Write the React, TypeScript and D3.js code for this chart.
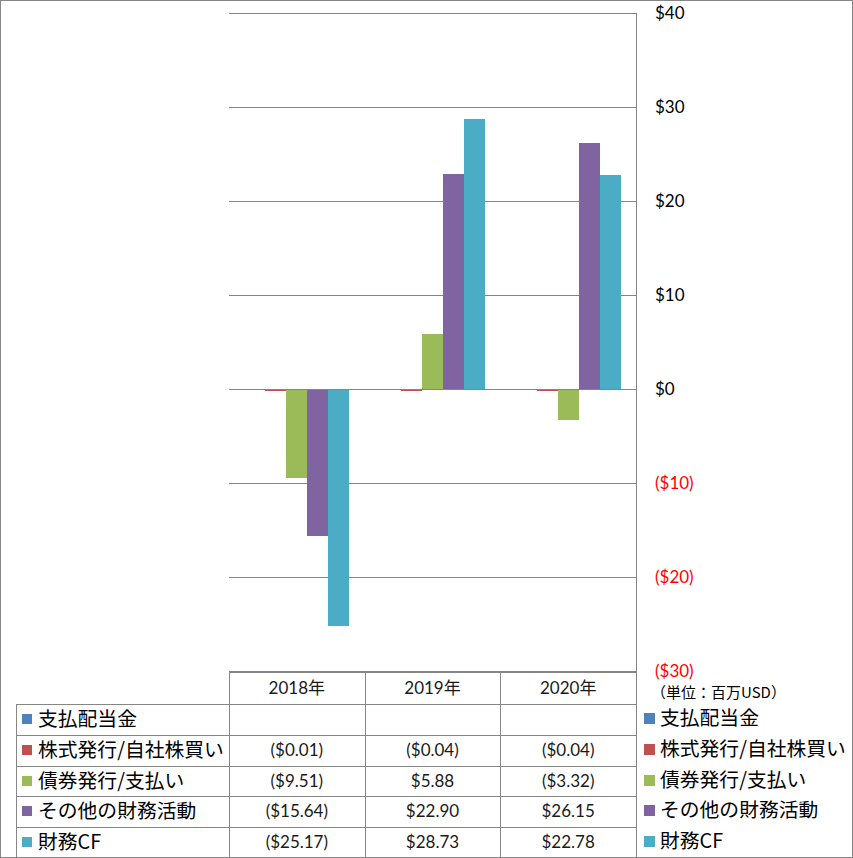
import React from 'react';
import * as d3 from 'd3';

const categories = ['2018年', '2019年', '2020年'];
const seriesNames = ['支払配当金', '株式発行/自社株買い', '債券発行/支払い', 'その他の財務活動', '財務CF'];
const dividends: (number | null)[] = [null, null, null];
const stockIssuance: (number | null)[] = [-0.01, -0.04, -0.04];
const debtIssuance: (number | null)[] = [-9.51, 5.88, -3.32];
const otherFinancing: (number | null)[] = [-15.64, 22.9, 26.15];
const financingCF: (number | null)[] = [-25.17, 28.73, 22.78];
const seriesValues = [dividends, stockIssuance, debtIssuance, otherFinancing, financingCF];
const seriesColors = ['#4F81BD', '#C0504D', '#9BBB59', '#8064A2', '#4BACC6'];
const yTicks = [40, 30, 20, 10, 0, -10, -20, -30];
const unitLabel = '（単位：百万USD）';

const W = 853;
const H = 858;
const plotLeft = 229;
const plotRight = 636;
const gridColor = '#868686';
const numFont = "Lato, 'Noto Sans CJK JP', sans-serif";
const jpFont = "'Noto Sans CJK JP', sans-serif";

const fmtVal = (v: number) => (v < 0 ? `($${Math.abs(v).toFixed(2)})` : `$${v.toFixed(2)}`);
const fmtTick = (v: number) => (v < 0 ? `($${Math.abs(v)})` : `$${v}`);

export default function App() {
  const y = d3.scaleLinear().domain([-30, 40]).range([671, 13]);
  const x = d3.scaleBand<string>().domain(categories).range([plotLeft, plotRight]).padding(0);
  const bw = x.bandwidth();
  const groupW = bw * 0.774;
  const xs = d3
    .scaleBand<string>()
    .domain(seriesNames)
    .range([(bw - groupW) / 2, (bw + groupW) / 2])
    .padding(0);

  const headerTop = 672;
  const rowTops = [704, 735, 766, 796, 827];
  const rowBottom = 857;
  const rowH = 30.6;

  return (
    <svg
      width={W}
      height={H}
      style={{ position: 'absolute', left: 0, top: 0, background: '#fff' }}
      shapeRendering="crispEdges"
    >
      <rect x={0} y={0} width={W} height={H} fill="#fff" />
      {/* gridlines */}
      {yTicks.map((t) => (
        <line
          key={t}
          x1={plotLeft}
          x2={plotRight}
          y1={Math.round(y(t)) + 0.5}
          y2={Math.round(y(t)) + 0.5}
          stroke={gridColor}
          strokeWidth={1}
        />
      ))}
      {/* bars */}
      <g shapeRendering="crispEdges">
        {categories.map((c, ci) =>
          seriesValues.map((vals, si) => {
            const v = vals[ci];
            if (v === null || v === undefined) return null;
            const x0 = (x(c) as number) + (xs(seriesNames[si]) as number);
            const y0 = y(0);
            const y1 = y(v);
            let top = Math.min(y0, y1);
            let h = Math.abs(y1 - y0);
            if (h < 1.5) {
              h = 1.5;
              top = v < 0 ? y0 : y0 - h;
            }
            return (
              <rect
                key={`${ci}-${si}`}
                x={x0}
                y={top}
                width={xs.bandwidth()}
                height={h}
                fill={seriesColors[si]}
              />
            );
          })
        )}
      </g>
      {/* zero line on top */}
      <line x1={plotLeft} x2={plotRight} y1={Math.round(y(0)) + 0.5} y2={Math.round(y(0)) + 0.5} stroke={gridColor} />
      {/* right axis line extends through table */}
      <line x1={plotRight + 0.5} x2={plotRight + 0.5} y1={y(40)} y2={rowBottom} stroke={gridColor} />
      {/* tick labels */}
      {yTicks.map((t) => (
        <text
          key={`l${t}`}
          x={655}
          y={y(t)}
          dy="0.36em"
          fontFamily={numFont}
          fontSize={17}
          fill={t < 0 ? '#FF0000' : '#000'}
        >
          {fmtTick(t)}
        </text>
      ))}
      <text x={651} y={693} dy="0.36em" fontFamily={jpFont} fontSize={15} fill="#000">
        {unitLabel}
      </text>

      {/* table grid */}
      <line x1={plotLeft} x2={plotRight} y1={headerTop + 0.5} y2={headerTop + 0.5} stroke={gridColor} />
      {rowTops.map((r) => (
        <line key={`r${r}`} x1={16} x2={plotRight} y1={r + 0.5} y2={r + 0.5} stroke={gridColor} />
      ))}
      {categories.map((c) => (
        <line
          key={`v${c}`}
          x1={Math.round(x(c) as number) + 0.5}
          x2={Math.round(x(c) as number) + 0.5}
          y1={headerTop}
          y2={rowBottom}
          stroke={gridColor}
        />
      ))}
      <line x1={16.5} x2={16.5} y1={rowTops[0]} y2={rowBottom} stroke={gridColor} />
      {/* header labels */}
      {categories.map((c) => (
        <text
          key={`h${c}`}
          x={(x(c) as number) + bw / 2}
          y={(headerTop + rowTops[0]) / 2}
          dy="0.36em"
          textAnchor="middle"
          fontFamily={numFont}
          fontSize={17}
          fill="#1a1a1a"
        >
          {c}
        </text>
      ))}
      {/* table rows */}
      {seriesNames.map((s, si) => {
        const cy = rowTops[si] + rowH / 2;
        return (
          <g key={`row${si}`}>
            <rect x={22} y={cy - 5} width={10} height={10} fill={seriesColors[si]} />
            <text x={38} y={cy} dy="0.36em" fontFamily={jpFont} fontSize={19.8} fill="#000">
              {s}
            </text>
            {categories.map((c, ci) => {
              const v = seriesValues[si][ci];
              if (v === null || v === undefined) return null;
              return (
                <text
                  key={`c${ci}`}
                  x={(x(c) as number) + bw / 2}
                  y={cy}
                  dy="0.36em"
                  textAnchor="middle"
                  fontFamily={numFont}
                  fontSize={17}
                  fill="#1a1a1a"
                >
                  {fmtVal(v)}
                </text>
              );
            })}
            {/* right legend */}
            <rect x={644} y={cy - 6.5} width={11} height={11} fill={seriesColors[si]} />
            <text x={660} y={cy - 1.5} dy="0.36em" fontFamily={jpFont} fontSize={19.8} fill="#000">
              {s}
            </text>
          </g>
        );
      })}
      {/* outer border */}
      <rect x={0.5} y={0.5} width={W - 1} height={H - 1} fill="none" stroke={gridColor} />
    </svg>
  );
}
